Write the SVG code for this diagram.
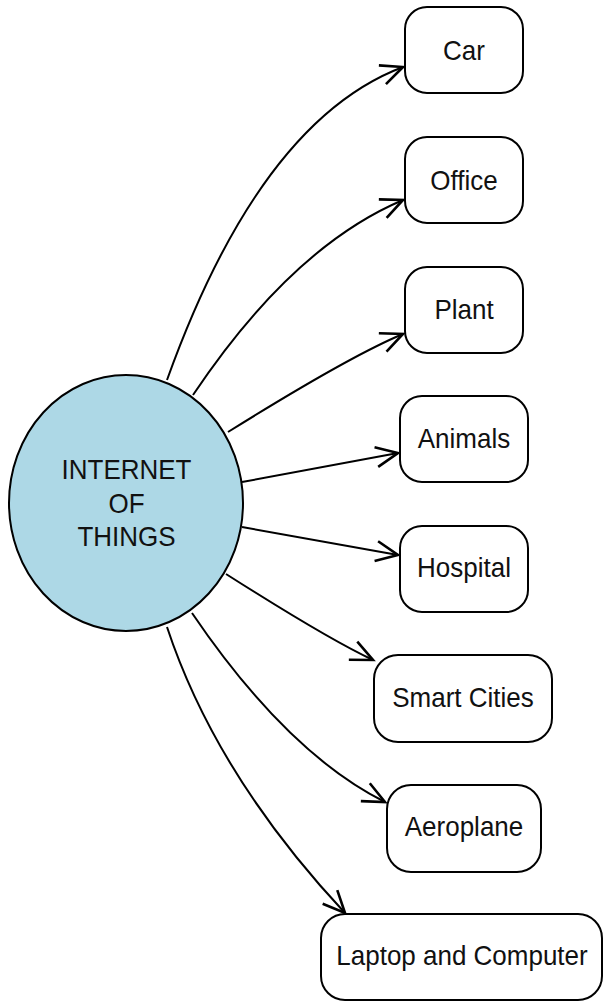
<svg xmlns="http://www.w3.org/2000/svg" width="604" height="1002" viewBox="0 0 604 1002">
  <style>
    .box { fill: #ffffff; stroke: #000000; stroke-width: 2; }
    .hub { fill: #add8e6; stroke: #000000; stroke-width: 2; }
    .lbl { font-family: "Liberation Sans", Arial, sans-serif; font-size: 26px; fill: #111111; text-anchor: middle; }
    .edge { fill: none; stroke: #000000; stroke-width: 2; marker-end: url(#open); }
  </style>
  <defs>
    <!-- open chevron arrowhead, tip at the path end -->
    <marker id="open" markerUnits="userSpaceOnUse" viewBox="-25 -13 28 26" refX="0" refY="0" markerWidth="28" markerHeight="26" orient="auto">
      <path d="M-22,-10 L0,0 L-22,10" fill="none" stroke="#000000" stroke-width="2.6" stroke-linejoin="miter"/>
    </marker>
  </defs>

  <rect width="604" height="1002" fill="#ffffff"/>

  <!-- connectors from the hub to each item -->
  <g id="connectors">
    <path class="edge" d="M167,380 Q260,121 403,67"/>
    <path class="edge" d="M193,395 Q292,247 403,200"/>
    <path class="edge" d="M228,432 Q350,356 403,334"/>
    <path class="edge" d="M242,482 L398,453"/>
    <path class="edge" d="M242,527 L398,555"/>
    <path class="edge" d="M226,574 Q328,639 373,660"/>
    <path class="edge" d="M192,613 Q287,753 385,802"/>
    <path class="edge" d="M167,627 Q216,775 345,913"/>
  </g>

  <!-- labels are stretched slightly upward from their baseline -->
  <g id="hub">
    <ellipse class="hub" cx="126" cy="503" rx="117" ry="128"/>
    <text class="lbl" transform="translate(126.5,479) scale(1,1.08)">INTERNET</text>
    <text class="lbl" transform="translate(126.5,513) scale(1,1.08)">OF</text>
    <text class="lbl" transform="translate(126.5,546) scale(1,1.08)">THINGS</text>
  </g>

  <g id="car">
    <rect class="box" x="405" y="7" width="118" height="86" rx="22"/>
    <text class="lbl" transform="translate(464,60) scale(1,1.08)">Car</text>
  </g>
  <g id="office">
    <rect class="box" x="405" y="137" width="118" height="86" rx="22"/>
    <text class="lbl" transform="translate(464,190) scale(1,1.08)">Office</text>
  </g>
  <g id="plant">
    <rect class="box" x="405" y="267" width="118" height="86" rx="22"/>
    <text class="lbl" transform="translate(464,319) scale(1,1.08)">Plant</text>
  </g>
  <g id="animals">
    <rect class="box" x="400" y="396" width="128" height="86" rx="22"/>
    <text class="lbl" transform="translate(464,448) scale(1,1.08)">Animals</text>
  </g>
  <g id="hospital">
    <rect class="box" x="400" y="526" width="128" height="86" rx="22"/>
    <text class="lbl" transform="translate(464,577) scale(1,1.08)">Hospital</text>
  </g>
  <g id="smart-cities">
    <rect class="box" x="374" y="655" width="178" height="87" rx="24"/>
    <text class="lbl" transform="translate(463,707) scale(1,1.08)">Smart Cities</text>
  </g>
  <g id="aeroplane">
    <rect class="box" x="387" y="785" width="154" height="87" rx="24"/>
    <text class="lbl" transform="translate(464,836) scale(1,1.08)">Aeroplane</text>
  </g>
  <g id="laptop">
    <rect class="box" x="321" y="914" width="281" height="86" rx="24"/>
    <text class="lbl" transform="translate(462,965) scale(1,1.08)">Laptop and Computer</text>
  </g>
</svg>
